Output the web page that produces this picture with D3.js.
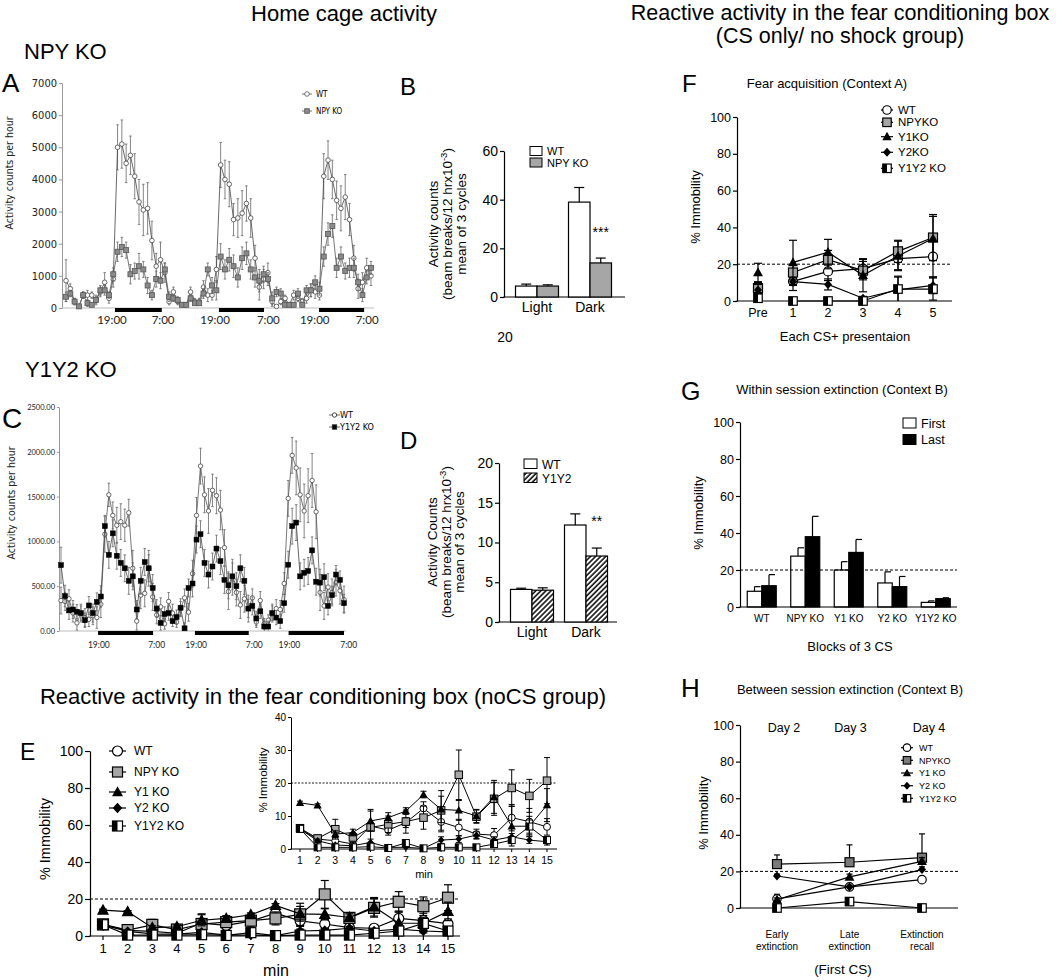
<!DOCTYPE html>
<html><head><meta charset="utf-8">
<script src="https://cdn.jsdelivr.net/npm/d3@7"></script>
<style>
body{margin:0;background:#fff}
svg{display:block}
text{font-family:"Liberation Sans",Arial,Helvetica,sans-serif;fill:#000}
</style>
</head><body><script>
// ================= DATA =================
// Panel A (NPY KO home cage, hourly, 3 cycles)
const hourIndex = d3.range(72);
const aWT = [850,600,200,50,400,400,400,250,500,800,300,900,
 5000,5100,4500,4750,4100,3300,3050,3100,2100,1300,1500,1100,
 200,500,200,100,100,500,200,200,650,400,400,1200,
 4450,4000,3850,2750,2800,2950,3250,2800,1550,650,900,1100,
 200,50,200,300,100,400,300,200,300,550,500,400,
 4100,4600,4000,3350,3100,3450,2750,1550,600,800,1250,1000];
const aWTErr = [650,150,100,50,100,150,100,150,150,300,150,250,
 700,750,600,600,700,700,800,800,600,400,550,300,
 100,150,100,50,50,150,100,100,200,200,150,400,
 700,600,700,500,600,700,550,600,400,400,300,300,
 150,50,100,100,50,150,100,100,150,200,200,150,
 700,600,600,600,700,700,500,400,300,300,300,300];
const aKO = [350,450,200,50,400,150,100,250,550,550,400,1050,
 1750,1900,1800,1050,1150,1300,1200,700,400,900,850,1200,
 350,300,250,100,100,300,150,150,450,1200,700,550,
 1600,1200,1500,1300,950,1550,1700,1200,950,850,1050,900,
 300,500,450,100,100,100,450,100,550,550,800,600,
 1600,2300,2550,1250,1600,1150,1250,1250,800,400,950,1250];
const aKOErr = [150,100,100,50,100,100,50,100,150,150,100,200,
 300,300,250,300,250,400,250,250,150,250,250,200,
 150,100,100,50,50,100,50,50,150,200,250,300,
 400,300,350,350,300,350,350,300,300,350,250,200,
 200,150,150,50,50,50,150,50,150,200,200,200,
 300,350,350,300,300,250,300,300,250,200,200,200];
const aYTicks = [0,1000,2000,3000,4000,5000,6000,7000];
const aDark = [[11.4,22.3],[35.6,46.1],[58.9,69.4]];
const aTimePos = [10.7,22.6,34.7,47.1,57.9,70.1];
const timeLabels = ['19:00','7:00','19:00','7:00','19:00','7:00'];
const aLegend = ['WT','NPY KO'];

// Panel B
const bCats = ['Light','Dark'];
const bWT = [4.5,39];   const bWTErr = [0.8,6];
const bKO = [4.5,14];   const bKOErr = [0.5,2];
const bTicks = [0,20,40,60];
const bLegend = ['WT','NPY KO'];

// Panel C (Y1Y2 KO home cage)
const cWT = [340,330,360,200,90,200,150,130,170,150,300,1080,
 1520,1290,1180,1220,1180,1320,700,110,400,420,700,380,
 180,270,80,330,200,100,250,370,210,640,1290,1840,
 1520,1340,1570,1510,1350,930,440,600,430,290,360,250,
 370,100,340,80,120,200,250,240,530,1480,1960,1820,
 1520,1340,1510,1680,1330,430,280,490,430,540,450,350];
const cWTErr = [150,100,100,100,80,100,100,80,100,120,150,200,
 130,150,200,200,180,150,200,100,150,150,200,150,
 100,100,60,100,100,60,80,100,100,150,200,200,
 200,250,180,200,220,200,200,200,150,150,150,150,
 100,60,100,60,60,100,100,100,120,200,200,300,
 300,300,300,300,300,200,150,150,150,150,150,150];
const cKO = [735,390,230,240,215,200,120,285,200,325,385,1170,
 850,1090,840,760,700,560,610,240,560,770,700,480,
 250,90,190,200,110,155,260,30,480,530,1020,1080,
 760,630,720,920,780,570,510,610,500,700,560,250,
 280,140,220,50,50,200,150,110,310,740,1170,1210,
 610,650,670,900,550,540,600,280,400,630,570,310];
const cKOErr = [200,120,100,100,80,80,80,100,100,100,120,120,
 150,150,150,150,150,150,150,100,150,150,150,150,
 100,80,80,80,60,80,100,60,100,150,150,150,
 150,150,150,150,150,150,150,150,150,150,150,100,
 100,80,80,60,60,80,80,80,100,150,200,200,
 150,150,150,150,150,150,150,100,100,100,100,100];
const cYTicks = [0,500,1000,1500,2000,2500];
const cDark = [[9.3,23.1],[33.6,47.1],[57.1,71]];
const cTimePos = [9.5,24,33.9,48.5,57.3,72.2];
const cLegend = ['WT','Y1Y2 KO'];

// Panel D
const dWT = [4.1,12.2];  const dWTErr = [0.15,1.4];
const dKO = [4.0,8.3];   const dKOErr = [0.3,1.0];
const dTicks = [0,5,10,15,20];
const dLegend = ['WT','Y1Y2'];

// Panel E (noCS group), minutes 1..15
const eMinutes = [1,2,3,4,5,6,7,8,9,10,11,12,13,14,15];
const eWT   = [6,3,2.5,1.5,7,5.7,8,12.3,8.2,6.5,4.5,4.2,9.5,8.3,6.7];
const eWTErr= [1,1,1,1,1,1.5,1.5,2,3,2.5,1.5,2,4,4,2.5];
const eNPY  = [6.3,3.2,6,3.5,6.5,7.5,8.3,9.5,11.7,22.5,9.8,15.2,18.5,16.1,20.7];
const eNPYErr=[1,1,3,1.5,5.5,2.5,3.5,3.5,6,7.5,2,5,5.5,5,7];
const eY1   = [14,13.2,4.5,5,8.5,9.5,11.5,16.5,12,11.7,10,15.8,6.9,6.9,13.3];
const eY1Err= [0.5,0.5,1,1,3,1.5,1,1,4,3,2,5,6,3,5];
const eY2   = [6,2.5,1.2,1,2,0.5,0.5,0.2,2.7,3,4.2,2.7,3.7,2.7,2.2];
const eY2Err= [0.5,0.5,0.5,0.5,1,0.5,0.5,0.3,1,1,1,1,1,1,1];
const eY1Y2 = [6.1,0.5,0.5,0.5,0.7,0.3,1.8,0.2,0.5,0.5,0.5,1.5,2.7,6.8,2.7];
const eY1Y2Err=[0.5,0.5,0.5,0.3,0.5,0.3,1,0.2,0.3,0.3,0.3,0.5,1,2,1];
const eTicks = [0,20,40,60,80,100];
const eInsetTicks = [0,10,20,30,40];
const eLegend = ['WT','NPY KO','Y1 KO','Y2 KO','Y1Y2 KO'];

// Panel F (fear acquisition)
const fCats = ['Pre','1','2','3','4','5'];
const fWT   = [5,10.7,16.1,17.6,23,24.1];      const fWTErr  = [3,5,5,5,6,11];
const fNPY  = [7,15.5,22.5,16.5,27,34.5];      const fNPYErr = [3,4,5,5,6,12.5];
const fY1   = [15.5,21,26.5,14,24.5,34];       const fY1Err  = [5,12,7,9,8,12];
const fY2   = [6,10.5,9,1.5,6,8.5];            const fY2Err  = [3,2,3,1,7,4.5];
const fY1Y2 = [1.5,0,0,0,6.5,6.5];             const fY1Y2Err= [1,0.5,0.5,0.5,7,6];
const fLegend = ['WT','NPYKO','Y1KO','Y2KO','Y1Y2 KO'];

// Panel G (within session extinction)
const gGroups = ['WT','NPY KO','Y1 KO','Y2 KO','Y1Y2 KO'];
const gFirst = [8.5,27.5,20,13,2.5];   const gFirstErr = [2.5,4.5,4.5,6,0.8];
const gLast  = [11.5,38,29.5,11,4.5];  const gLastErr  = [6,11,7,5.5,0.5];
const gLegend = ['First','Last'];

// Panel H (between session extinction)
const hCats = [['Early','extinction'],['Late','extinction'],['Extinction','recall']];
const hDays = ['Day 2','Day 3','Day 4'];
const hWT   = [5,11.5,15.5];   const hWTErr  = [2.5,1,1];
const hNPY  = [24,25,27.5];    const hNPYErr = [5,9.5,13];
const hY1   = [4.5,17,25.5];   const hY1Err  = [1,1.5,2];
const hY2   = [17.5,11.5,21];  const hY2Err  = [1,1,1.5];
const hY1Y2 = [0,3.5,0];       const hY1Y2Err= [0.5,1,0.5];
const hLegend = ['WT','NPYKO','Y1 KO','Y2 KO','Y1Y2 KO'];
const pctTicks = [0,20,40,60,80,100];

// ================= DRAWING =================
const NARROW = '"Liberation Sans Narrow","Arial Narrow","DejaVu Sans Condensed",sans-serif';
const svg = d3.select('body').append('svg').attr('width',1063).attr('height',980);
svg.append('rect').attr('width',1063).attr('height',980).attr('fill','#fff');
const defs = svg.append('defs');
const pat = defs.append('pattern').attr('id','hatch').attr('patternUnits','userSpaceOnUse')
  .attr('width',3.6).attr('height',3.6).attr('patternTransform','rotate(45)');
pat.append('rect').attr('width',3.6).attr('height',3.6).attr('fill','#fff');
pat.append('line').attr('x1',1).attr('y1',0).attr('x2',1).attr('y2',3.6).attr('stroke','#000').attr('stroke-width',1.5);

function txt(x,y,s,size,o={}){
  const t=svg.append('text').attr('x',x).attr('y',y).text(s).style('font-size',size+'px');
  if(o.anchor) t.attr('text-anchor',o.anchor);
  if(o.family) t.style('font-family',o.family);
  if(o.rot) t.attr('transform',`rotate(-90,${x},${y})`);
  if(o.fill) t.style('fill',o.fill);
  return t;
}
function hline(x1,x2,y,o={}){
  return svg.append('line').attr('x1',x1).attr('x2',x2).attr('y1',y).attr('y2',y)
    .attr('stroke',o.color||'#000').attr('stroke-width',o.w||1.2)
    .attr('stroke-dasharray',o.dash||null);
}
function yAxis(x,scale,ticks,size,o={}){
  const g=svg.append('g').attr('transform',`translate(${x},0)`)
   .call(d3.axisLeft(scale).tickValues(ticks).tickSize(o.tick||4).tickSizeOuter(0)
   .tickPadding(o.pad||2).tickFormat(o.fmt||(d=>d)));
  g.selectAll('path.domain').attr('stroke',o.color||'#000').attr('stroke-width',o.w||1.2);
  g.selectAll('.tick line').attr('stroke',o.color||'#000').attr('stroke-width',o.w||1.2);
  g.selectAll('.tick text').style('font-size',size+'px').style('font-family',o.family||null).style('fill',o.tcolor||'#000');
  return g;
}
function mark(g,type,cx,cy,s,o={}){
  const h=s/2, sw=o.sw||1.2, st=o.stroke||'#000';
  if(type==='circle') g.append('circle').attr('cx',cx).attr('cy',cy).attr('r',h).attr('fill','#fff').attr('stroke',st).attr('stroke-width',sw);
  else if(type==='square') g.append('rect').attr('x',cx-h).attr('y',cy-h).attr('width',s).attr('height',s).attr('fill',o.fill||'#a6a6a6').attr('stroke',st).attr('stroke-width',sw);
  else if(type==='tri') g.append('path').attr('d',`M${cx},${cy-s*0.58}L${cx+s*0.55},${cy+s*0.42}L${cx-s*0.55},${cy+s*0.42}Z`).attr('fill','#000');
  else if(type==='diamond') g.append('path').attr('d',`M${cx},${cy-h*1.05}L${cx+h*0.95},${cy}L${cx},${cy+h*1.05}L${cx-h*0.95},${cy}Z`).attr('fill','#000');
  else if(type==='half'){
    g.append('rect').attr('x',cx-h).attr('y',cy-h).attr('width',s).attr('height',s).attr('fill','#fff').attr('stroke','#000').attr('stroke-width',sw);
    g.append('rect').attr('x',cx-h).attr('y',cy-h).attr('width',h).attr('height',s).attr('fill','#000');
  }
}
function series(xs,ys,errs,xS,yS,o){
  const g=svg.append('g');
  const ec=o.errColor||'#000', ew=o.errW||1.2, cap=o.cap||8;
  xs.forEach((x,i)=>{
    if(!errs||!errs[i]) return;
    const px=xS(x);
    const top=yS(ys[i]+errs[i]);
    const bot=o.upOnly?yS(ys[i]):yS(Math.max(0,ys[i]-errs[i]));
    g.append('line').attr('x1',px).attr('x2',px).attr('y1',bot).attr('y2',top).attr('stroke',ec).attr('stroke-width',ew);
    g.append('line').attr('x1',px-cap/2).attr('x2',px+cap/2).attr('y1',top).attr('y2',top).attr('stroke',ec).attr('stroke-width',ew);
    if(!o.upOnly && ys[i]-errs[i]>0) g.append('line').attr('x1',px-cap/2).attr('x2',px+cap/2).attr('y1',bot).attr('y2',bot).attr('stroke',ec).attr('stroke-width',ew);
  });
  const st=o.start||0;
  const pts=xs.slice(st).map((x,i)=>[xS(x),yS(ys[i+st])]);
  g.append('path').attr('d',d3.line()(pts)).attr('fill','none').attr('stroke',o.lineColor||'#000').attr('stroke-width',o.lineW||1.2);
  xs.forEach((x,i)=>mark(g,o.type,xS(x),yS(ys[i]),o.size,o));
}
function legendRows(x0,x1,xt,ys,labels,types,size,fs,o={}){
  const g=svg.append('g');
  ys.forEach((y,i)=>{
    g.append('line').attr('x1',x0).attr('x2',x1).attr('y1',y).attr('y2',y).attr('stroke',o.lineColor||'#000').attr('stroke-width',o.lw||1.2);
    mark(g,types[i],(x0+x1)/2,y,size,{fill:o.fill,sw:o.sw,stroke:o.stroke});
    g.append('text').attr('x',xt).attr('y',y+fs*0.36).text(labels[i]).style('font-size',fs+'px').style('font-family',o.family||null);
  });
}

// ---------- Headers ----------
txt(344,21,'Home cage activity',22,{anchor:'middle'});
txt(840,20,'Reactive activity in the fear conditioning box',21.5,{anchor:'middle'});
txt(840,43,'(CS only/ no shock group)',21.5,{anchor:'middle'});
txt(24,59,'NPY KO',22);
txt(25,377,'Y1Y2 KO',22);
txt(2,92,'A',26); txt(400,95,'B',24); txt(2,428,'C',28); txt(400,449,'D',24);
txt(20,760,'E',23); txt(682,92,'F',24); txt(681,400,'G',25); txt(681,697,'H',26);
txt(505,342,'20',14,{anchor:'middle'});

// ---------- Panel A ----------
{
 const X=d3.scaleLinear().domain([0,71]).range([66,371]);
 const Y=d3.scaleLinear().domain([0,7000]).range([308,83]);
 yAxis(62,Y,aYTicks,11,{tick:3,color:'#999',w:1,family:NARROW,tcolor:'#222'});
 hline(62,374,308,{color:'#bbb',w:1});
 aDark.forEach(d=>svg.append('rect').attr('x',X(d[0])).attr('y',308).attr('width',X(d[1])-X(d[0])).attr('height',4).attr('fill','#000'));
 aTimePos.forEach((p,i)=>txt(X(p),324,timeLabels[i],11.5,{anchor:'middle',family:'Lato,"Open Sans",sans-serif',fill:'#222'}));
 txt(13,173,'Activity counts per hour',10.5,{anchor:'middle',rot:true,family:NARROW,fill:'#222'});
 series(hourIndex,aWT,aWTErr,X,Y,{type:'circle',size:4.6,lineColor:'#444',lineW:0.8,errColor:'#666',errW:0.8,cap:2.5,stroke:'#444',sw:0.8});
 series(hourIndex,aKO,aKOErr,X,Y,{type:'square',size:5,fill:'#8a8a8a',stroke:'#555',sw:0.8,lineColor:'#555',lineW:0.8,errColor:'#666',errW:0.8,cap:2.5});
 legendRows(302,312,316,[94,111],aLegend,['circle','square'],4.6,8,{lineColor:'#555',lw:0.8,fill:'#8a8a8a',sw:0.8,stroke:'#555',family:NARROW});
}

// ---------- Panel B ----------
{
 const Y=d3.scaleLinear().domain([0,60]).range([297,151]);
 const X=d3.scaleBand().domain(bCats).range([510.5,616.5]);
 yAxis(504,Y,bTicks,14,{tick:4});
 hline(503.4,625,297);
 const bw=21.5;
 bCats.forEach((c,i)=>{
  const cx=X(c)+X.bandwidth()/2;
  [[bWT,bWTErr,'#fff',cx-bw],[bKO,bKOErr,'#a6a6a6',cx]].forEach(([v,e,f,x0])=>{
    svg.append('line').attr('x1',x0+bw/2).attr('x2',x0+bw/2).attr('y1',Y(v[i])).attr('y2',Y(v[i]+e[i])).attr('stroke','#000').attr('stroke-width',1.2);
    svg.append('line').attr('x1',x0+bw/2-5).attr('x2',x0+bw/2+5).attr('y1',Y(v[i]+e[i])).attr('y2',Y(v[i]+e[i])).attr('stroke','#000').attr('stroke-width',1.2);
    svg.append('rect').attr('x',x0).attr('y',Y(v[i])).attr('width',bw).attr('height',Y(0)-Y(v[i])).attr('fill',f).attr('stroke','#000').attr('stroke-width',1.2);
  });
  txt(cx,312,c,14,{anchor:'middle'});
 });
 txt(X('Dark')+X.bandwidth()/2+bw/2,237,'***',14,{anchor:'middle'});
 svg.append('rect').attr('x',530).attr('y',146.5).attr('width',12).attr('height',9).attr('fill','#fff').attr('stroke','#000');
 svg.append('rect').attr('x',530).attr('y',158).attr('width',12).attr('height',9).attr('fill','#a6a6a6').attr('stroke','#000');
 txt(547,155,bLegend[0],11); txt(547,167,bLegend[1],11);
 txt(438,224,'Activity counts',13.5,{anchor:'middle',rot:true});
 const t2=txt(452,224,'(beam breaks/12 hrx10',13.5,{anchor:'middle',rot:true});
 t2.append('tspan').attr('dy',-5).style('font-size','9.5px').text('-3');
 t2.append('tspan').attr('dy',5).text(')');
 txt(465.5,224,'mean of 3 cycles',13.5,{anchor:'middle',rot:true});
}

// ---------- Panel C ----------
{
 const X=d3.scaleLinear().domain([0,71]).range([61,344]);
 const Y=d3.scaleLinear().domain([0,2500]).range([631,407]);
 yAxis(59,Y,cYTicks,7.5,{tick:2,color:'#999',w:1,fmt:d3.format('.2f'),family:'Lato,sans-serif',tcolor:'#222'});
 hline(59,346,631,{color:'#bbb',w:1});
 cDark.forEach(d=>svg.append('rect').attr('x',X(d[0])).attr('y',631).attr('width',X(d[1])-X(d[0])).attr('height',4).attr('fill','#000'));
 cTimePos.forEach((p,i)=>txt(X(p),648,timeLabels[i],8.5,{anchor:'middle',family:'Lato,sans-serif',fill:'#222'}));
 txt(15,503,'Activity counts per hour',10.5,{anchor:'middle',rot:true,family:NARROW,fill:'#222'});
 series(hourIndex,cWT,cWTErr,X,Y,{type:'circle',size:4.4,lineColor:'#555',lineW:0.8,errColor:'#666',errW:0.8,cap:2.5,stroke:'#444',sw:0.8});
 series(hourIndex,cKO,cKOErr,X,Y,{type:'square',size:5,fill:'#000',stroke:'#000',sw:0.5,lineColor:'#444',lineW:0.8,errColor:'#666',errW:0.8,cap:2.5});
 legendRows(329,340,340,[415,427],cLegend,['circle','square'],4.4,9,{lineColor:'#444',lw:0.8,fill:'#000',sw:0.8,stroke:'#222',family:NARROW});
}

// ---------- Panel D ----------
{
 const Y=d3.scaleLinear().domain([0,20]).range([622,463]);
 const X=d3.scaleBand().domain(bCats).range([505,613]);
 yAxis(499,Y,dTicks,14,{tick:4});
 hline(498.4,617,622);
 const bw=21.5;
 bCats.forEach((c,i)=>{
  const cx=X(c)+X.bandwidth()/2;
  [[dWT,dWTErr,'#fff',cx-bw],[dKO,dKOErr,'url(#hatch)',cx]].forEach(([v,e,f,x0])=>{
    svg.append('line').attr('x1',x0+bw/2).attr('x2',x0+bw/2).attr('y1',Y(v[i])).attr('y2',Y(v[i]+e[i])).attr('stroke','#000').attr('stroke-width',1.2);
    svg.append('line').attr('x1',x0+bw/2-5).attr('x2',x0+bw/2+5).attr('y1',Y(v[i]+e[i])).attr('y2',Y(v[i]+e[i])).attr('stroke','#000').attr('stroke-width',1.2);
    svg.append('rect').attr('x',x0).attr('y',Y(v[i])).attr('width',bw).attr('height',Y(0)-Y(v[i])).attr('fill',f).attr('stroke','#000').attr('stroke-width',1.2);
  });
  txt(cx,637,c,14,{anchor:'middle'});
 });
 txt(X('Dark')+X.bandwidth()/2+bw/2,526,'**',14,{anchor:'middle'});
 svg.append('rect').attr('x',524).attr('y',459).attr('width',13).attr('height',9.5).attr('fill','#fff').attr('stroke','#000');
 svg.append('rect').attr('x',524).attr('y',473).attr('width',13).attr('height',9.5).attr('fill','url(#hatch)').attr('stroke','#000');
 txt(542,468.5,dLegend[0],12); txt(542,482.5,dLegend[1],12);
 txt(437,542,'Activity Counts',13.5,{anchor:'middle',rot:true});
 const t2=txt(450.5,542,'(beam breaks/12 hrx10',13.5,{anchor:'middle',rot:true});
 t2.append('tspan').attr('dy',-5).style('font-size','9.5px').text('-3');
 t2.append('tspan').attr('dy',5).text(')');
 txt(464,542,'mean of 3 cycles',13.5,{anchor:'middle',rot:true});
}

// ---------- Panel E ----------
const eTypes=['circle','square','tri','diamond','half'];
txt(323,704,'Reactive activity in the fear conditioning box (noCS group)',22,{anchor:'middle'});
{
 const X=d3.scaleLinear().domain([1,15]).range([103,448]);
 const Y=d3.scaleLinear().domain([0,100]).range([936,751]);
 yAxis(90,Y,eTicks,14,{tick:5});
 hline(89.4,460,936);
 eMinutes.forEach(m=>{
   svg.append('line').attr('x1',X(m)).attr('x2',X(m)).attr('y1',936).attr('y2',940).attr('stroke','#000').attr('stroke-width',1.2);
   txt(X(m),953,m,13,{anchor:'middle'});
 });
 hline(90,460,Y(20),{w:1,dash:'3,2'});
 txt(276,976,'min',16,{anchor:'middle'});
 txt(50,839,'% Immobility',14.5,{anchor:'middle',rot:true});
 const S=[[eWT,eWTErr],[eNPY,eNPYErr],[eY1,eY1Err],[eY2,eY2Err],[eY1Y2,eY1Y2Err]];
 const sz=[10,11,11,10,10];
 S.forEach((s,k)=>series(eMinutes,s[0],s[1],X,Y,{type:eTypes[k],size:sz[k],cap:8,fill:'#a6a6a6'}));
 legendRows(109,126,134,[751,772,792,808,826],eLegend,eTypes,10,12,{fill:'#a6a6a6'});
 // inset
 const Xi=d3.scaleLinear().domain([1,15]).range([300,547]);
 const Yi=d3.scaleLinear().domain([0,40]).range([849,717]);
 yAxis(291,Yi,eInsetTicks,10,{tick:3,w:1});
 hline(290.5,557,849,{w:1});
 eMinutes.forEach(m=>{
   svg.append('line').attr('x1',Xi(m)).attr('x2',Xi(m)).attr('y1',849).attr('y2',852).attr('stroke','#000').attr('stroke-width',1);
   txt(Xi(m),864,m,10.5,{anchor:'middle'});
 });
 hline(291,557,Yi(20),{w:0.9,dash:'2,1.5'});
 txt(424,878,'min',11,{anchor:'middle'});
 txt(267,780,'% Immobility',11.5,{anchor:'middle',rot:true});
 S.forEach((s,k)=>series(eMinutes,s[0],s[1],Xi,Yi,{type:eTypes[k],size:[7,7.5,7.5,7,7][k],cap:6,fill:'#a6a6a6',lineW:1,errW:1,sw:1}));
}

// ---------- Panel F ----------
txt(827,88,'Fear acquisition (Context A)',13,{anchor:'middle'});
{
 const X=d3.scaleLinear().domain([0,5]).range([758,933]);
 const Y=d3.scaleLinear().domain([0,100]).range([301,117]);
 const idx=fCats.map((c,i)=>i);
 yAxis(737,Y,pctTicks,12.5,{tick:4});
 hline(736.4,952,301);
 fCats.forEach((c,i)=>txt(X(i),317,c,12.5,{anchor:'middle'}));
 hline(737,952,Y(20),{w:1,dash:'3,2'});
 txt(845,341,'Each CS+ presentaion',13,{anchor:'middle'});
 txt(700,207,'% Immobility',13,{anchor:'middle',rot:true});
 const S=[[fWT,fWTErr],[fNPY,fNPYErr],[fY1,fY1Err],[fY2,fY2Err],[fY1Y2,fY1Y2Err]];
 const sz=[9,9,9,8.5,8.5];
 S.forEach((s,k)=>series(idx,s[0],s[1],X,Y,{type:eTypes[k],size:sz[k],cap:8,start:1,fill:'#a6a6a6'}));
 legendRows(881,893,898,[110,122.3,136.7,152.3,168.3],fLegend,eTypes,8.5,11.5,{fill:'#a6a6a6'});
}

// ---------- Panel G ----------
txt(842,394,'Within session extinction (Context B)',13,{anchor:'middle'});
{
 const Y=d3.scaleLinear().domain([0,100]).range([607,422]);
 const X=d3.scaleBand().domain(gGroups).range([740,957.5]);
 yAxis(740,Y,pctTicks,12.5,{tick:4});
 const bw=14.5;
 gGroups.forEach((grp,i)=>{
   const cx=X(grp)+X.bandwidth()/2;
   [[gFirst,gFirstErr,'#fff',cx-bw],[gLast,gLastErr,'#000',cx]].forEach(([v,e,f,x0])=>{
     svg.append('line').attr('x1',x0+bw/2).attr('x2',x0+bw/2).attr('y1',Y(v[i])).attr('y2',Y(v[i]+e[i])).attr('stroke','#000').attr('stroke-width',1.2);
     svg.append('line').attr('x1',x0+bw/2).attr('x2',x0+bw/2+6).attr('y1',Y(v[i]+e[i])).attr('y2',Y(v[i]+e[i])).attr('stroke','#000').attr('stroke-width',1.2);
     svg.append('rect').attr('x',x0).attr('y',Y(v[i])).attr('width',bw).attr('height',Y(0)-Y(v[i])).attr('fill',f).attr('stroke','#000').attr('stroke-width',1.2);
   });
   txt(cx,622,grp,10,{anchor:'middle'});
 });
 hline(739.4,957,607);
 hline(740,957,Y(20),{w:1,dash:'3,2'});
 svg.append('rect').attr('x',903).attr('y',418).attr('width',13).attr('height',10).attr('fill','#fff').attr('stroke','#000');
 svg.append('rect').attr('x',903).attr('y',434.5).attr('width',13).attr('height',10).attr('fill','#000').attr('stroke','#000');
 txt(921,427.5,gLegend[0],12.5); txt(921,444,gLegend[1],12.5);
 txt(850,651,'Blocks of 3 CS',13,{anchor:'middle'});
 txt(703,513,'% Immobility',13,{anchor:'middle',rot:true});
}

// ---------- Panel H ----------
txt(850,694,'Between session extinction (Context B)',13,{anchor:'middle'});
{
 const X=d3.scaleLinear().domain([0,2]).range([777,922]);
 const Y=d3.scaleLinear().domain([0,100]).range([908,725]);
 const idx=hCats.map((c,i)=>i);
 yAxis(740,Y,pctTicks,12.5,{tick:4});
 hline(739.4,958,908);
 hline(740,958,Y(20),{w:1,dash:'3,2'});
 hCats.forEach((c,i)=>{ txt(X(i),938,c[0],10,{anchor:'middle'}); txt(X(i),950,c[1],10,{anchor:'middle'}); });
 hDays.forEach((d,i)=>txt(X(i)+[7,1,7][i],732,d,12.5,{anchor:'middle'}));
 txt(843,974,'(First CS)',13.5,{anchor:'middle'});
 txt(708,813,'% Immobility',13,{anchor:'middle',rot:true});
 const S=[[hWT,hWTErr],[hNPY,hNPYErr],[hY1,hY1Err],[hY2,hY2Err],[hY1Y2,hY1Y2Err]];
 const sz=[8.5,9,9,8.5,8.5];
 S.forEach((s,k)=>series(idx,s[0],s[1],X,Y,{type:eTypes[k],size:sz[k],cap:6,upOnly:true,fill:'#7a7a7a'}));
 legendRows(901,913,919,[747.7,760.3,773,785.7,798.3],hLegend,eTypes,7.5,9,{fill:'#7a7a7a'});
}
</script></body></html>
